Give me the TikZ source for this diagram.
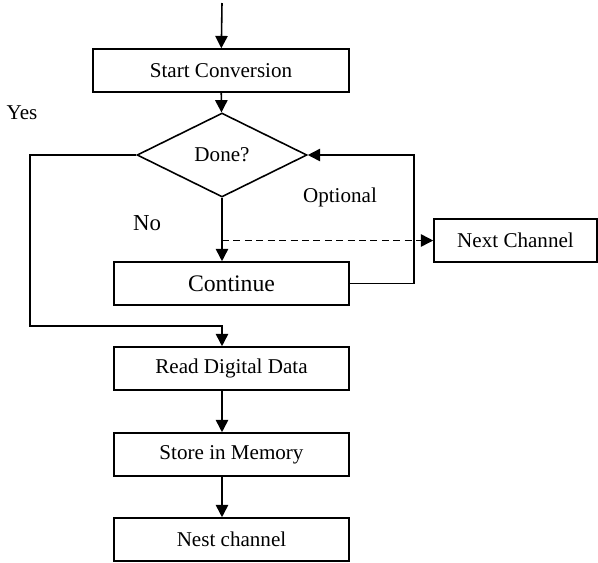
\documentclass[tikz,border=0pt]{standalone}
\usepackage{fontspec}
\setmainfont{Liberation Serif}
\usetikzlibrary{arrows.meta,shapes.geometric}

\begin{document}
\begin{tikzpicture}[
    x=0.02cm, y=-0.02cm,
    block/.style={draw, line width=0.9pt, minimum width=4.7cm, minimum height=0.86cm, align=center, font=\fontsize{12pt}{14pt}\selectfont},
    decide/.style={draw, diamond, line width=0.9pt, inner sep=0pt, minimum width=3.4cm, minimum height=1.68cm, font=\fontsize{12pt}{14pt}\selectfont},
    lbl/.style={font=\fontsize{12pt}{14pt}\selectfont},
    >={Triangle[length=7pt, width=7pt]},
    line width=0.9pt,
]
    \useasboundingbox (0,0) rectangle (598,562);

    \coordinate (in) at (222,3);
    \node[block, minimum width=5.12cm] (start) at (221,70.5) {Start Conversion};
    \node[decide] (done) at (222,155) {Done?};
    \node[block, font=\fontsize{13.5pt}{16pt}\selectfont] (cont) at (231.5,283.5) {Continue};
    \node[block, minimum width=3.26cm] (next) at (515.5,240.5) {Next Channel};
    \node[block] (read) at (231.5,368.5) {Read Digital Data};
    \node[block] (store) at (231.5,454.5) {Store in Memory};
    \node[block] (nest) at (231.5,539.5) {Nest channel};

    % labels
    \node[lbl] (yes) at (22,113) {Yes};
    \node[lbl, font=\fontsize{13pt}{15pt}\selectfont] (no) at (147,223) {No};
    \node[lbl] (opt) at (340,197) {Optional};

    \coordinate (yesdn) at (30,326);

    \draw[->] (in) -- (start);
    \draw[->] (start) -- (done);
    \draw[->] (done.south) -- (done.south |- cont.north);
    \draw[->, dash pattern=on 4pt off 2.5pt] (done.south |- next.west) -- (next.west);
    \draw[->] (cont.east) -- ++(64,0) |- (done.east);
    \draw[->] (done.west) -| (yesdn) -| (done.south |- read.north);
    \draw[->] (done.south |- read.south) -- (done.south |- store.north);
    \draw[->] (done.south |- store.south) -- (done.south |- nest.north);
\end{tikzpicture}
\end{document}
